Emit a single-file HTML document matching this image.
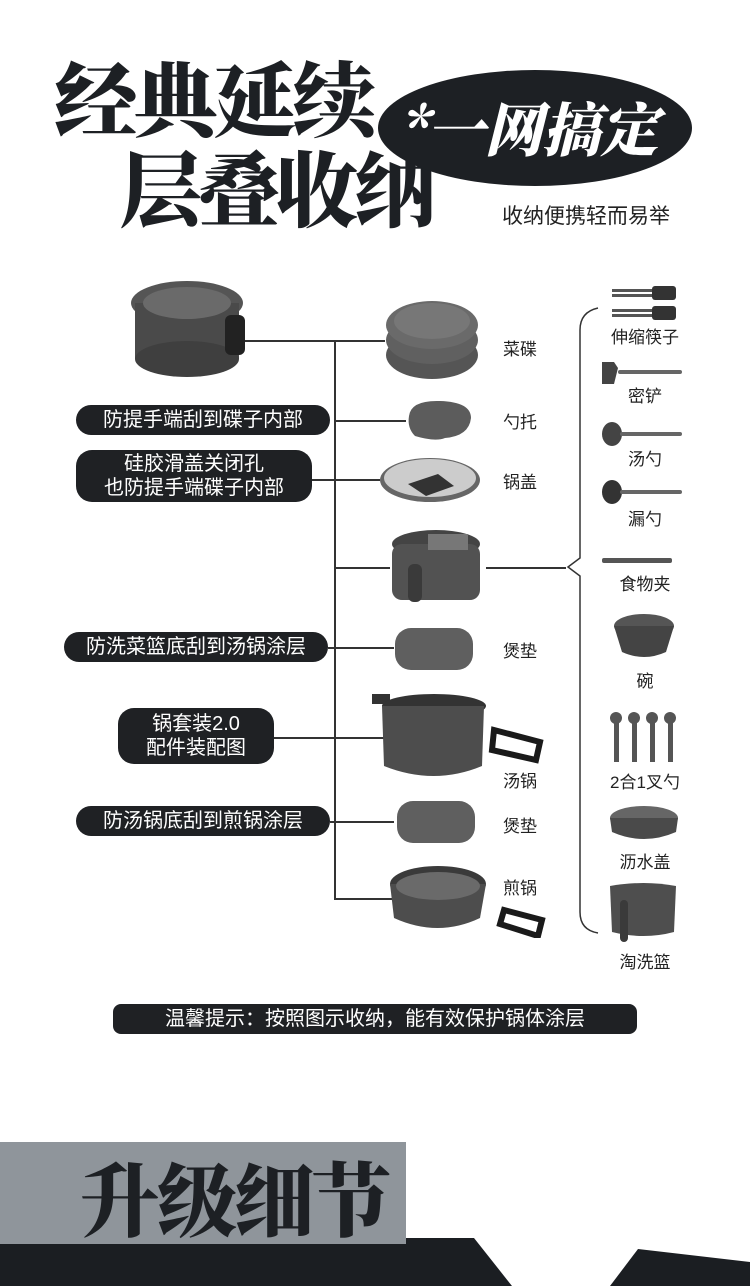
<!DOCTYPE html>
<html><head><meta charset="utf-8"><style>
body{margin:0;width:750px;height:1286px;position:relative;background:#fff;overflow:hidden;font-family:"Liberation Sans","Noto Sans CJK SC",sans-serif;color:#222}
.a{position:absolute}
.t{position:absolute;font-family:"Noto Serif CJK SC","Noto Sans CJK SC",serif;font-weight:900;color:#1d2024;white-space:nowrap;letter-spacing:-4px}
.pill{position:absolute;background:#1f2124;color:#fff;border-radius:16px;font-size:20px;text-align:center;line-height:24px;display:flex;align-items:center;justify-content:center}
.lb{position:absolute;font-size:17px;color:#222;white-space:nowrap}
.rl{position:absolute;font-size:17px;color:#222;white-space:nowrap;width:100px;text-align:center}
.ln{position:absolute;background:#333}
</style></head><body>
<div class="t" style="left:57px;top:48px;font-size:82px;line-height:96px;transform:scaleX(1.02)">经典延续</div>
<div class="t" style="left:120px;top:138px;font-size:82px;line-height:96px">层叠收纳</div>
<div class="a" style="left:378px;top:70px;width:314px;height:116px;border-radius:50%;background:#1d2024"></div>
<div class="t" style="left:398px;top:88px;font-size:58px;line-height:76px;color:#fff;font-style:italic;letter-spacing:0px">*一网搞定</div>
<div class="a" style="left:502px;top:200px;font-size:21px;color:#222">收纳便携轻而易举</div>

<!-- connectors -->
<div class="ln" style="left:334px;top:340px;width:1.5px;height:559px"></div>
<div class="ln" style="left:245px;top:340px;width:140px;height:1.5px"></div>
<div class="ln" style="left:334px;top:420px;width:72px;height:1.5px"></div>
<div class="ln" style="left:312px;top:479px;width:68px;height:1.5px"></div>
<div class="ln" style="left:334px;top:567px;width:56px;height:1.5px"></div>
<div class="ln" style="left:486px;top:567px;width:80px;height:1.5px"></div>
<div class="ln" style="left:328px;top:647px;width:66px;height:1.5px"></div>
<div class="ln" style="left:274px;top:737px;width:112px;height:1.5px"></div>
<div class="ln" style="left:330px;top:821px;width:64px;height:1.5px"></div>
<div class="ln" style="left:334px;top:898px;width:58px;height:1.5px"></div>
<svg class="a" style="left:560px;top:300px" width="50" height="640"><path d="M38 8 Q20 12 20 30 L20 258 L8 267 L20 276 L20 612 Q20 630 38 633" fill="none" stroke="#333" stroke-width="1.5"/></svg>

<!-- pills -->
<div class="pill" style="left:76px;top:405px;width:254px;height:30px">防提手端刮到碟子内部</div>
<div class="pill" style="left:76px;top:450px;width:236px;height:52px">硅胶滑盖关闭孔<br>也防提手端碟子内部</div>
<div class="pill" style="left:64px;top:632px;width:264px;height:30px">防洗菜篮底刮到汤锅涂层</div>
<div class="pill" style="left:118px;top:708px;width:156px;height:56px">锅套装2.0<br>配件装配图</div>
<div class="pill" style="left:76px;top:806px;width:254px;height:30px">防汤锅底刮到煎锅涂层</div>
<div class="pill" style="left:113px;top:1004px;width:524px;height:30px;border-radius:8px;font-size:20px">温馨提示：按照图示收纳，能有效保护锅体涂层</div>

<!-- left items -->
<svg class="a" style="left:125px;top:275px" width="130" height="110"><ellipse cx="62" cy="28" rx="56" ry="22" fill="#555"/><rect x="10" y="28" width="104" height="56" fill="#4a4a4a"/><ellipse cx="62" cy="84" rx="52" ry="18" fill="#3f3f3f"/><ellipse cx="62" cy="28" rx="44" ry="16" fill="#6a6a6a"/><rect x="100" y="40" width="20" height="40" rx="6" fill="#222"/></svg>
<svg class="a" style="left:385px;top:295px" width="100" height="90"><ellipse cx="47" cy="60" rx="46" ry="24" fill="#555"/><ellipse cx="47" cy="45" rx="46" ry="24" fill="#606060"/><ellipse cx="47" cy="30" rx="46" ry="24" fill="#6a6a6a"/><ellipse cx="47" cy="26" rx="38" ry="18" fill="#777"/></svg>
<svg class="a" style="left:405px;top:398px" width="70" height="46"><path d="M4 18 Q6 2 35 3 Q66 4 66 20 Q64 38 40 40 Q30 44 10 38 Q2 30 4 18Z" fill="#5c5c5c"/></svg>
<svg class="a" style="left:378px;top:456px" width="104" height="50"><ellipse cx="52" cy="24" rx="50" ry="22" fill="#666"/><ellipse cx="52" cy="22" rx="46" ry="19" fill="#ccc"/><path d="M30 28 L60 18 L76 30 L48 40Z" fill="#333"/></svg>
<svg class="a" style="left:388px;top:528px" width="100" height="84"><ellipse cx="48" cy="16" rx="44" ry="14" fill="#444"/><rect x="4" y="16" width="88" height="56" rx="10" fill="#525252"/><rect x="20" y="36" width="14" height="38" rx="6" fill="#3a3a3a"/><rect x="40" y="6" width="40" height="16" fill="#777"/></svg>
<svg class="a" style="left:392px;top:625px" width="84" height="48"><rect x="3" y="3" width="78" height="42" rx="16" fill="#5f5f5f"/></svg>
<svg class="a" style="left:372px;top:686px" width="180" height="104"><rect x="0" y="8" width="18" height="10" fill="#333"/><ellipse cx="62" cy="20" rx="52" ry="12" fill="#333"/><path d="M10 20 L12 80 Q62 100 110 80 L112 20Z" fill="#4d4d4d"/><path d="M122 44 L168 56 L164 74 L120 64Z" fill="none" stroke="#1a1a1a" stroke-width="6"/></svg>
<svg class="a" style="left:394px;top:798px" width="84" height="48"><rect x="3" y="3" width="78" height="42" rx="16" fill="#5f5f5f"/></svg>
<svg class="a" style="left:388px;top:860px" width="160" height="78"><ellipse cx="50" cy="24" rx="48" ry="18" fill="#3a3a3a"/><path d="M2 24 L6 58 Q50 78 92 58 L98 24Z" fill="#4d4d4d"/><ellipse cx="50" cy="26" rx="42" ry="14" fill="#6a6a6a"/><path d="M116 50 L154 60 L150 76 L112 64Z" fill="none" stroke="#1a1a1a" stroke-width="6"/></svg>

<div class="lb" style="left:503px;top:335px">菜碟</div>
<div class="lb" style="left:503px;top:408px">勺托</div>
<div class="lb" style="left:503px;top:468px">锅盖</div>
<div class="lb" style="left:503px;top:637px">煲垫</div>
<div class="lb" style="left:503px;top:767px">汤锅</div>
<div class="lb" style="left:503px;top:812px">煲垫</div>
<div class="lb" style="left:503px;top:874px">煎锅</div>

<!-- right items -->
<svg class="a" style="left:600px;top:280px" width="90" height="360">
<rect x="12" y="9" width="40" height="3" fill="#555"/><rect x="12" y="14" width="40" height="3" fill="#555"/><rect x="52" y="6" width="24" height="14" rx="3" fill="#333"/>
<rect x="12" y="29" width="40" height="3" fill="#555"/><rect x="12" y="34" width="40" height="3" fill="#555"/><rect x="52" y="26" width="24" height="14" rx="3" fill="#333"/>
<path d="M2 82 L14 82 L18 88 L14 104 L2 104Z" fill="#444"/><rect x="18" y="90" width="64" height="4" rx="2" fill="#666"/>
<ellipse cx="12" cy="154" rx="10" ry="12" fill="#444"/><rect x="20" y="152" width="62" height="4" rx="2" fill="#666"/>
<ellipse cx="12" cy="212" rx="10" ry="12" fill="#333"/><rect x="20" y="210" width="62" height="4" rx="2" fill="#666"/>
<rect x="2" y="278" width="70" height="5" rx="2" fill="#555"/>
</svg>
<svg class="a" style="left:610px;top:612px" width="70" height="50"><ellipse cx="34" cy="14" rx="30" ry="12" fill="#555"/><path d="M4 14 L12 40 Q34 50 56 40 L64 14Z" fill="#444"/></svg>
<svg class="a" style="left:608px;top:708px" width="70" height="56"><g fill="#555"><rect x="6" y="10" width="5" height="44"/><rect x="24" y="10" width="5" height="44"/><rect x="42" y="10" width="5" height="44"/><rect x="60" y="10" width="5" height="44"/><circle cx="8" cy="10" r="6"/><circle cx="26" cy="10" r="6"/><circle cx="44" cy="10" r="6"/><circle cx="62" cy="10" r="6"/></g></svg>
<svg class="a" style="left:606px;top:804px" width="76" height="46"><ellipse cx="38" cy="14" rx="34" ry="12" fill="#666"/><path d="M4 14 L6 28 Q38 42 70 28 L72 14Z" fill="#4a4a4a"/></svg>
<svg class="a" style="left:606px;top:880px" width="76" height="62"><path d="M4 6 Q38 0 70 6 L68 52 Q38 60 6 52Z" fill="#4e4e4e"/><rect x="14" y="20" width="8" height="42" rx="4" fill="#3a3a3a"/></svg>

<div class="rl" style="left:595px;top:323px">伸缩筷子</div>
<div class="rl" style="left:595px;top:382px">密铲</div>
<div class="rl" style="left:595px;top:445px">汤勺</div>
<div class="rl" style="left:595px;top:505px">漏勺</div>
<div class="rl" style="left:595px;top:570px">食物夹</div>
<div class="rl" style="left:595px;top:667px">碗</div>
<div class="rl" style="left:595px;top:768px">2合1叉勺</div>
<div class="rl" style="left:595px;top:848px">沥水盖</div>
<div class="rl" style="left:595px;top:948px">淘洗篮</div>

<!-- bottom -->
<svg class="a" style="left:0;top:1230px" width="750" height="56"><path d="M0 8 L474 8 L512 56 L0 56Z" fill="#1b1e22"/><path d="M610 56 L638 19 L750 32 L750 56Z" fill="#1b1e22"/></svg>
<div class="a" style="left:0;top:1142px;width:406px;height:102px;background:#8f959b"></div>
<div class="t" style="left:80px;top:1148px;font-size:80px;line-height:96px;letter-spacing:-3px">升级细节</div>
</body></html>
